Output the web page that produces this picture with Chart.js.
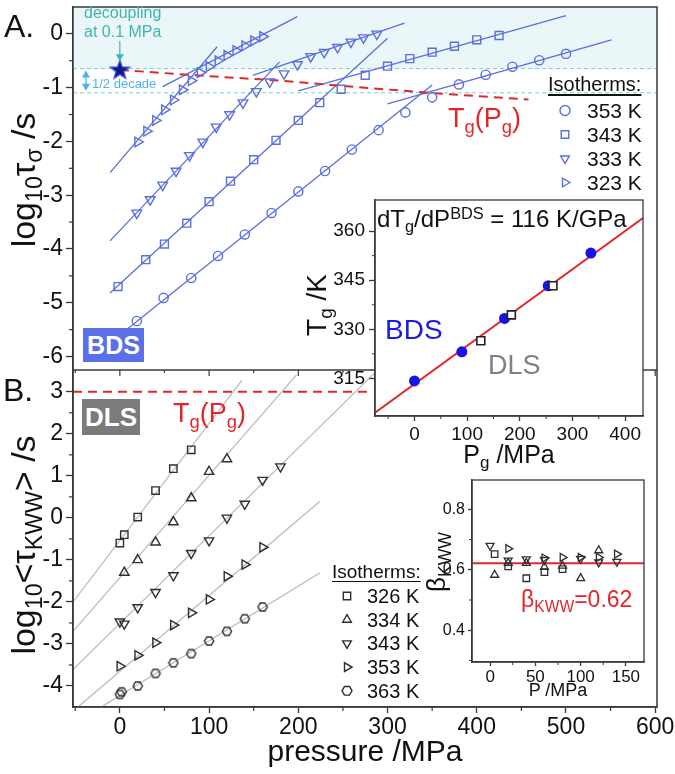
<!DOCTYPE html>
<html lang="en">
<head>
<meta charset="UTF-8">
<title>BDS / DLS relaxation times under pressure</title>
<script src="https://cdn.jsdelivr.net/npm/chart.js@4.4.1/dist/chart.umd.min.js"></script>
<style>
  html, body { margin: 0; padding: 0; background: #fff; }
  body { width: 675px; height: 774px; position: relative; overflow: hidden;
         font-family: Arial, "Liberation Sans", sans-serif; }
  canvas { position: absolute; }
  .t { position: absolute; white-space: nowrap; line-height: 1; color: #111; }
  .t sub { font-size: 68%; vertical-align: baseline; position: relative; top: 0.32em; }
  .t sup { font-size: 68%; vertical-align: baseline; position: relative; top: -0.5em; }
  .c { transform: translateX(-50%); }
  .rot { transform: translate(-50%, -50%) rotate(-90deg); }
  .box { position: absolute; color: #fff; font-weight: bold; display: flex;
         align-items: center; justify-content: center; line-height: 1; }
  .red { color: #e3262b; }
  .u { text-decoration: underline; text-underline-offset: 3px; }
</style>
</head>
<body>
<canvas id="main" width="675" height="774" style="left:0;top:0"></canvas>
<canvas id="tgInset" width="360" height="290" style="left:300px;top:190px"></canvas>
<canvas id="betaInset" width="240" height="240" style="left:420px;top:470px"></canvas>

<!-- panel letters and axis titles -->
<div class="t" style="left:4px;top:10px;font-size:32px">A.</div>
<div class="t" style="left:3px;top:374px;font-size:32px">B.</div>
<div class="t rot" style="left:23px;top:180px;font-size:34px">log<sub>10</sub>τ<sub>σ</sub> /s</div>
<div class="t rot" style="left:23px;top:545px;font-size:34px">log<sub>10</sub>&lt;τ<sub>KWW</sub>&gt; /s</div>
<div class="t c" style="left:365px;top:736px;font-size:30px">pressure /MPa</div>

<!-- panel A notes -->
<div class="t" style="left:84px;top:5px;font-size:16px;color:#3fb7ad">decoupling</div>
<div class="t" style="left:84px;top:24px;font-size:16px;color:#3fb7ad">at 0.1 MPa</div>
<div class="t" style="left:92px;top:77px;font-size:13px;color:#4fb3e8">1/2 decade</div>
<div class="t red" style="left:448px;top:105px;font-size:27px">T<sub>g</sub>(P<sub>g</sub>)</div>
<div class="box" style="left:83px;top:328px;width:61px;height:34px;background:#5b6fe6;font-size:25px">BDS</div>
<div class="t u" style="left:548px;top:74px;font-size:20px">Isotherms:</div>
<div class="t" style="left:587px;top:100px;font-size:21px">353 K</div>
<div class="t" style="left:587px;top:124px;font-size:21px">343 K</div>
<div class="t" style="left:587px;top:148px;font-size:21px">333 K</div>
<div class="t" style="left:587px;top:172px;font-size:21px">323 K</div>

<!-- panel B notes -->
<div class="box" style="left:82px;top:399px;width:58px;height:36px;background:#7b7b7b;font-size:26px">DLS</div>
<div class="t red" style="left:173px;top:400px;font-size:27px">T<sub>g</sub>(P<sub>g</sub>)</div>
<div class="t u" style="left:332px;top:562px;font-size:19px">Isotherms:</div>
<div class="t" style="left:367px;top:586px;font-size:20px">326 K</div>
<div class="t" style="left:367px;top:610px;font-size:20px">334 K</div>
<div class="t" style="left:367px;top:633px;font-size:20px">343 K</div>
<div class="t" style="left:367px;top:657px;font-size:20px">353 K</div>
<div class="t" style="left:367px;top:681px;font-size:20px">363 K</div>

<!-- Tg inset texts -->
<div class="t" style="left:377px;top:207px;font-size:24px">dT<sub>g</sub>/dP<sup>BDS</sup> = 116 K/GPa</div>
<div class="t" style="left:385px;top:316px;font-size:28px;color:#1a1ae0">BDS</div>
<div class="t" style="left:488px;top:352px;font-size:27px;color:#808080">DLS</div>
<div class="t rot" style="left:317px;top:305px;font-size:28px">T<sub>g</sub> /K</div>
<div class="t c" style="left:509px;top:442px;font-size:25px">P<sub>g</sub> /MPa</div>

<!-- beta inset texts -->
<div class="t rot" style="left:436px;top:562px;font-size:26px">β<sub>KWW</sub></div>
<div class="t red" style="left:521px;top:588px;font-size:23px">β<sub>KWW</sub>=0.62</div>
<div class="t c" style="left:558px;top:681px;font-size:18px">P /MPa</div>

<script>
// ---------- panel A: BDS, log10(tau_sigma / s) vs pressure (MPa) ----------
const BDS_P_353 = [19, 49, 80, 110, 140, 170, 200, 230, 260, 290, 320, 350, 380, 410, 440, 470, 500];
const BDS_LOG_353 = [-5.34, -4.91, -4.54, -4.13, -3.73, -3.33, -2.93, -2.55, -2.15, -1.79, -1.46, -1.18, -0.94, -0.76, -0.61, -0.49, -0.37];
const BDS_P_343 = [-2, 29, 50, 75, 100, 124, 150, 175, 200, 224, 248, 275, 300, 325, 350, 375, 400, 425];
const BDS_LOG_343 = [-4.70, -4.20, -3.91, -3.52, -3.12, -2.74, -2.34, -1.98, -1.61, -1.28, -1.03, -0.77, -0.60, -0.46, -0.34, -0.23, -0.11, -0.03];
const BDS_P_333 = [19, 34, 48, 63, 78, 93, 108, 123, 138, 153, 168, 184, 199, 214, 229, 244, 259, 273, 288];
const BDS_LOG_333 = [-3.33, -3.08, -2.81, -2.55, -2.26, -2.01, -1.73, -1.50, -1.28, -1.07, -0.89, -0.74, -0.57, -0.42, -0.34, -0.25, -0.15, -0.07, 0.00];
const BDS_P_323 = [20, 30, 40, 50, 60, 70, 80, 90, 100, 110, 120, 130, 140, 150, 160];
const BDS_LOG_323 = [-2.01, -1.81, -1.61, -1.41, -1.23, -1.04, -0.87, -0.72, -0.61, -0.50, -0.40, -0.31, -0.22, -0.13, -0.05];

// fitted straight lines, two segments per isotherm (steep, then flat)
const FIT_P_353 = [[0, 350], [300, 551]];
const FIT_LOG_353 = [[-5.60, -0.95], [-1.30, -0.11]];
const FIT_P_343 = [[-11, 300], [200, 500]];
const FIT_LOG_343 = [[-4.82, -0.08], [-1.06, 0.34]];
const FIT_P_333 = [[-11, 179], [149, 319]];
const FIT_LOG_333 = [[-3.85, -0.52], [-0.77, 0.20]];
const FIT_P_323 = [[-11, 109], [48, 199]];
const FIT_LOG_323 = [[-2.58, -0.24], [-0.98, 0.32]];

const TG_LINE_P = [0, 84, 180, 348, 458];
const TG_LINE_LOG = [-0.67, -0.77, -0.87, -1.10, -1.22];
const STAR_P = [0];
const STAR_LOG = [-0.66];
const CYAN_LEVELS = [-0.645, -1.095];

// ---------- panel B: DLS, log10(<tau_KWW> / s) ----------
const DLS_P_326 = [0, 5, 20, 40, 60, 80];
const DLS_LOG_326 = [-0.60, -0.40, 0.02, 0.65, 1.17, 1.62];
const DLS_P_334 = [5, 20, 40, 60, 80, 100, 120];
const DLS_LOG_334 = [-1.30, -1.00, -0.58, -0.10, 0.47, 1.10, 1.40];
const DLS_P_343 = [0, 5, 20, 40, 60, 80, 100, 120, 140, 160, 180];
const DLS_LOG_343 = [-2.47, -2.52, -2.13, -1.77, -1.37, -0.84, -0.54, 0.00, 0.33, 0.90, 1.22];
const DLS_P_353 = [0, 20, 40, 60, 80, 100, 120, 140, 160];
const DLS_LOG_353 = [-3.53, -3.27, -2.97, -2.55, -2.26, -1.94, -1.39, -1.11, -0.70];
const DLS_P_363 = [0, 2, 20, 40, 60, 80, 100, 120, 140, 160];
const DLS_LOG_363 = [-4.20, -4.14, -4.00, -3.70, -3.45, -3.23, -2.93, -2.70, -2.40, -2.12];

const DFIT_P_326 = [-52.5, 137];
const DFIT_LOG_326 = [-2.00, 3.28];
const DFIT_P_334 = [-52.5, 198];
const DFIT_LOG_334 = [-2.70, 3.40];
const DFIT_P_343 = [-52.5, 289];
const DFIT_LOG_343 = [-3.61, 3.52];
const DFIT_P_353 = [-47, 224];
const DFIT_LOG_353 = [-4.50, 0.39];
const DFIT_P_363 = [-22.5, 224];
const DFIT_LOG_363 = [-4.52, -1.31];
const TG_DLS_P = [-52.5, 280];
const TG_DLS_LOG = [3, 3];

// ---------- inset: Tg vs Pg ----------
const TG_BDS_P = [0, 90, 171, 254, 335];
const TG_BDS_K = [314.2, 323.1, 333.3, 343.3, 353.3];
const TG_DLS_PG = [126, 184, 263];
const TG_DLS_K = [326.5, 334.4, 343.3];
const TG_FIT_P = [-75, 434];
const TG_FIT_K = [304.5, 364.0];

// ---------- inset: beta_KWW vs P ----------
const BETA_P_326 = [5, 20, 40, 60, 80];
const BETA_326 = [0.652, 0.611, 0.572, 0.592, 0.602];
const BETA_P_334 = [5, 20, 40, 60, 80, 100, 120];
const BETA_334 = [0.583, 0.622, 0.622, 0.609, 0.613, 0.572, 0.664];
const BETA_P_343 = [0, 20, 40, 60, 100, 120, 140];
const BETA_343 = [0.680, 0.631, 0.635, 0.633, 0.637, 0.625, 0.627];
const BETA_P_353 = [20, 60, 80, 100, 120, 140];
const BETA_353 = [0.670, 0.639, 0.641, 0.641, 0.641, 0.652];
const BETA_FIT_P = [-20, 170];
const BETA_FIT = [0.622, 0.622];

// ticks
const X_TICKS = [0, 100, 200, 300, 400, 500, 600];
const X_MINOR = [-50, 50, 150, 250, 350, 450, 550];
const A_Y_TICKS = [-6, -5, -4, -3, -2, -1, 0];
const A_Y_MINOR = [-5.5, -4.5, -3.5, -2.5, -1.5, -0.5];
const B_Y_TICKS = [-4, -3, -2, -1, 0, 1, 2, 3];
const B_Y_MINOR = [-3.5, -2.5, -1.5, -0.5, 0.5, 1.5, 2.5];
const TG_X_TICKS = [0, 100, 200, 300, 400];
const TG_X_MINOR = [-50, 50, 150, 250, 350];
const TG_Y_TICKS = [315, 330, 345, 360];
const TG_Y_MINOR = [322.5, 337.5, 352.5];
const BETA_X_TICKS = [0, 50, 100, 150];
const BETA_X_MINOR = [25, 75, 125];
const BETA_Y_TICKS = [0.4, 0.6, 0.8];
const BETA_Y_MINOR = [0.3, 0.5, 0.7];

const FONT = 'Arial, "Liberation Sans", sans-serif';
const C_BDS = '#5a6fe0';
const C_DLS = '#2e2e2e';
const C_DFIT = '#b8b8b8';
const C_RED = '#e3262b';
const C_AXIS = '#3a3a3a';

function xy(xs, ys) { return xs.map((x, i) => ({x: x, y: ys[i]})); }

function shapePath(ctx, style, r) {
    ctx.beginPath();
    if (style === 'circle') {
        ctx.arc(0, 0, r, 0, 2 * Math.PI);
    } else if (style === 'rect') {
        const h = r * Math.SQRT1_2;
        ctx.rect(-h, -h, 2 * h, 2 * h);
    } else {
        const n = style === 'hex' ? 6 : 3;
        for (let k = 0; k < n; k++) {
            const t = -Math.PI / 2 + k * 2 * Math.PI / n + (n === 6 ? Math.PI / 6 : 0);
            if (k) ctx.lineTo(r * Math.cos(t), r * Math.sin(t)); else ctx.moveTo(r * Math.cos(t), r * Math.sin(t));
        }
        ctx.closePath();
    }
}

function drawMarker(ctx, style, x, y, r, rot, color, lw) {
    ctx.save();
    ctx.translate(x, y);
    ctx.rotate(rot * Math.PI / 180);
    ctx.strokeStyle = color;
    ctx.lineWidth = lw;
    shapePath(ctx, style, r);
    ctx.stroke();
    ctx.restore();
}

// custom marker images: hexagon (363 K) and the star
const hexImg = document.createElement('canvas');
hexImg.width = hexImg.height = 12;
(function () {
    const c = hexImg.getContext('2d');
    c.translate(6, 6);
    c.strokeStyle = C_DLS; c.lineWidth = 1.4;
    shapePath(c, 'hex', 4.6);
    c.stroke();
})();
const starImg = document.createElement('canvas');
starImg.width = starImg.height = 22;
(function () {
    const c = starImg.getContext('2d');
    c.translate(11, 12);
    c.beginPath();
    for (let k = 0; k < 10; k++) {
        const r = k % 2 ? 4 : 10;
        const t = -Math.PI / 2 + k * Math.PI / 5;
        if (k) c.lineTo(r * Math.cos(t), r * Math.sin(t)); else c.moveTo(r * Math.cos(t), r * Math.sin(t));
    }
    c.closePath();
    c.fillStyle = '#0d1a80'; c.fill();
    c.strokeStyle = '#3346d8'; c.lineWidth = 1.2; c.stroke();
})();

function markerSet(xs, ys, axis, style, color, r, rot) {
    return {
        data: xy(xs, ys), yAxisID: axis, showLine: false,
        pointStyle: style, pointRotation: rot || 0, pointRadius: r,
        pointBorderColor: color, pointBackgroundColor: 'rgba(0,0,0,0)',
        pointBorderWidth: 1.4, order: 1
    };
}
function lineSet(xs, ys, axis, color, width, dash) {
    return {
        data: xy(xs, ys), yAxisID: axis, showLine: true, pointRadius: 0,
        borderColor: color, borderWidth: width, borderDash: dash || [], order: 2
    };
}

const datasets = [
    {data: xy(STAR_P, STAR_LOG), yAxisID: 'yA', pointStyle: starImg, order: 0},
    lineSet(TG_LINE_P, TG_LINE_LOG, 'yA', C_RED, 2, [9, 6]),
    markerSet(BDS_P_353, BDS_LOG_353, 'yA', 'circle', C_BDS, 4.6),
    markerSet(BDS_P_343, BDS_LOG_343, 'yA', 'rect', C_BDS, 5.6),
    markerSet(BDS_P_333, BDS_LOG_333, 'yA', 'triangle', C_BDS, 5.6, 180),
    markerSet(BDS_P_323, BDS_LOG_323, 'yA', 'triangle', C_BDS, 5.6, 90),
    markerSet(DLS_P_326, DLS_LOG_326, 'yB', 'rect', C_DLS, 5.2),
    markerSet(DLS_P_334, DLS_LOG_334, 'yB', 'triangle', C_DLS, 5.4),
    markerSet(DLS_P_343, DLS_LOG_343, 'yB', 'triangle', C_DLS, 5.4, 180),
    markerSet(DLS_P_353, DLS_LOG_353, 'yB', 'triangle', C_DLS, 5.4, 90),
    markerSet(DLS_P_363, DLS_LOG_363, 'yB', hexImg, C_DLS, 5),
    lineSet(TG_DLS_P, TG_DLS_LOG, 'yB', C_RED, 2, [9, 6])
];
[[FIT_P_353, FIT_LOG_353], [FIT_P_343, FIT_LOG_343], [FIT_P_333, FIT_LOG_333], [FIT_P_323, FIT_LOG_323]]
    .forEach(([ps, ls]) => ps.forEach((p, i) => datasets.push(lineSet(p, ls[i], 'yA', C_BDS, 1.3))));
[[DFIT_P_326, DFIT_LOG_326], [DFIT_P_334, DFIT_LOG_334], [DFIT_P_343, DFIT_LOG_343],
 [DFIT_P_353, DFIT_LOG_353], [DFIT_P_363, DFIT_LOG_363]]
    .forEach(([p, l]) => datasets.push(lineSet(p, l, 'yB', C_DFIT, 1.2)));

function axis(o) {
    return {
        type: 'linear', min: o.min, max: o.max, position: o.position,
        stack: o.stack, stackWeight: o.weight,
        afterBuildTicks: s => { s.ticks = o.ticks.map(v => ({value: v})); },
        afterFit: s => {
            if (o.width) s.width = o.width;
            if (o.height) s.height = o.height;
            // no extra room for overhanging labels: the frame is placed by layout.padding
            s.paddingTop = s.paddingBottom = s.paddingLeft = s.paddingRight = 0;
        },
        ticks: {
            font: {family: FONT, size: o.font}, color: '#111', padding: o.pad,
            maxRotation: 0, autoSkip: false, callback: o.label || (v => String(v))
        },
        grid: {display: true, drawOnChartArea: false, drawTicks: true, tickLength: o.tick,
               tickColor: C_AXIS, tickWidth: 1.3},
        border: {display: true, color: C_AXIS, width: 1.5}
    };
}

function seg(ctx, x1, y1, x2, y2) {
    ctx.beginPath(); ctx.moveTo(x1, y1); ctx.lineTo(x2, y2); ctx.stroke();
}
function arrowHead(ctx, x, y, dir) {
    ctx.beginPath();
    ctx.moveTo(x, y); ctx.lineTo(x - 4, y - 7 * dir); ctx.lineTo(x + 4, y - 7 * dir);
    ctx.closePath(); ctx.fill();
}

const LEGEND_A = [['circle', 0], ['rect', 0], ['triangle', 180], ['triangle', 90]];
const LEGEND_B = [['rect', 0], ['triangle', 0], ['triangle', 180], ['triangle', 90], ['hex', 0]];

const mainDecor = {
    id: 'mainDecor',
    beforeDatasetsDraw(chart) {
        const {ctx, chartArea: a, scales: {yA}} = chart;
        const yShade = yA.getPixelForValue(CYAN_LEVELS[0]);
        ctx.save();
        ctx.fillStyle = '#eaf6f7';
        ctx.fillRect(a.left, yA.top, a.right - a.left, yShade - yA.top);
        ctx.setLineDash([4, 3]);
        ctx.strokeStyle = '#78cde0';
        ctx.lineWidth = 1;
        CYAN_LEVELS.forEach(v => { const y = yA.getPixelForValue(v); seg(ctx, a.left, y, a.right, y); });
        ctx.restore();
    },
    afterDraw(chart) {
        const {ctx, chartArea: a, scales: {x, yA, yB}} = chart;
        ctx.save();
        ctx.strokeStyle = C_AXIS;
        ctx.lineWidth = 1.5;
        ctx.strokeRect(a.left, a.top, a.right - a.left, a.bottom - a.top);
        seg(ctx, a.left, yA.bottom, a.right, yA.bottom);
        ctx.lineWidth = 1.2;
        A_Y_MINOR.forEach(v => { const y = yA.getPixelForValue(v); seg(ctx, a.left - 4, y, a.left, y); });
        B_Y_MINOR.forEach(v => { const y = yB.getPixelForValue(v); seg(ctx, a.left - 4, y, a.left, y); });
        X_MINOR.forEach(v => {
            const px = x.getPixelForValue(v);
            seg(ctx, px, a.bottom, px, a.bottom + 4);
            seg(ctx, px, yB.top, px, yB.top + 3);
        });
        X_TICKS.forEach(v => { const px = x.getPixelForValue(v); seg(ctx, px, yB.top, px, yB.top + 6); });

        // arrow from "decoupling" note to the star
        const sx = x.getPixelForValue(STAR_P[0]);
        const sy = yA.getPixelForValue(STAR_LOG[0]);
        ctx.strokeStyle = ctx.fillStyle = '#3fb7ad';
        ctx.lineWidth = 1.2;
        seg(ctx, sx, 41, sx, sy - 10);
        arrowHead(ctx, sx, sy - 8, 1);
        // half-decade double arrow
        const dx = x.getPixelForValue(-38);
        const y1 = yA.getPixelForValue(CYAN_LEVELS[0]) + 2;
        const y2 = yA.getPixelForValue(CYAN_LEVELS[1]) - 2;
        ctx.strokeStyle = ctx.fillStyle = '#4fb3e8';
        seg(ctx, dx, y1 + 5, dx, y2 - 5);
        arrowHead(ctx, dx, y1, -1);
        arrowHead(ctx, dx, y2, 1);

        LEGEND_A.forEach(([s, r], i) => drawMarker(ctx, s, 565, 110.5 + 24 * i, s === 'rect' ? 5.4 : 5, r, C_BDS, 1.4));
        LEGEND_B.forEach(([s, r], i) => drawMarker(ctx, s, 347, 596 + 23.7 * i, s === 'rect' ? 5.2 : 5, r, C_DLS, 1.4));
        ctx.restore();
    }
};

new Chart(document.getElementById('main'), {
    type: 'scatter',
    data: {datasets: datasets},
    options: {
        responsive: false, animation: false, devicePixelRatio: 1,
        layout: {padding: {top: 3, right: 18, left: 0, bottom: 0}},
        plugins: {legend: {display: false}, tooltip: {enabled: false}},
        scales: {
            x: axis({min: -52.5, max: 602, position: 'bottom', ticks: X_TICKS, height: 67, font: 23, pad: 1, tick: 6}),
            yB: axis({min: -4.5, max: 3.52, position: 'left', stack: 'main', weight: 339, ticks: B_Y_TICKS, width: 73, font: 23, pad: 3, tick: 7}),
            yA: axis({min: -6.25, max: 0.5, position: 'left', stack: 'main', weight: 365, ticks: A_Y_TICKS, width: 73, font: 23, pad: 3, tick: 7})
        }
    },
    plugins: [mainDecor]
});

function insetFrame(xMinor, yMinor) {
    return {
        id: 'insetFrame',
        beforeDraw(chart) {
            const {ctx, chartArea: a} = chart;
            ctx.save();
            ctx.fillStyle = '#fff';
            ctx.fillRect(a.left, a.top, a.right - a.left, a.bottom - a.top);
            ctx.restore();
        },
        afterDraw(chart) {
            const {ctx, chartArea: a, scales: {x, y}} = chart;
            ctx.save();
            ctx.strokeStyle = C_AXIS;
            ctx.lineWidth = 1.3;
            ctx.strokeRect(a.left, a.top, a.right - a.left, a.bottom - a.top);
            ctx.lineWidth = 1;
            xMinor.forEach(v => { const px = x.getPixelForValue(v); seg(ctx, px, a.bottom, px, a.bottom + 3); });
            yMinor.forEach(v => { const py = y.getPixelForValue(v); seg(ctx, a.left - 3, py, a.left, py); });
            ctx.restore();
        }
    };
}

new Chart(document.getElementById('tgInset'), {
    type: 'scatter',
    data: {datasets: [
        {data: xy(TG_DLS_PG, TG_DLS_K), pointStyle: 'rect', pointRadius: 5.6, pointBorderColor: '#222',
         pointBackgroundColor: '#fff', pointBorderWidth: 1.6, order: 0},
        {data: xy(TG_BDS_P, TG_BDS_K), pointStyle: 'circle', pointRadius: 5.5, pointBorderColor: '#1515e8',
         pointBackgroundColor: '#1515e8', pointBorderWidth: 0, order: 1},
        {data: xy(TG_FIT_P, TG_FIT_K), showLine: true, pointRadius: 0, borderColor: C_RED, borderWidth: 2, order: 2}
    ]},
    options: {
        responsive: false, animation: false, devicePixelRatio: 1,
        layout: {padding: {top: 10, right: 17, left: 0, bottom: 0}},
        plugins: {legend: {display: false}, tooltip: {enabled: false}},
        scales: {
            x: axis({min: -75, max: 434, position: 'bottom', ticks: TG_X_TICKS, height: 64, font: 19, pad: 2, tick: 5}),
            y: axis({min: 303.5, max: 369.5, position: 'left', ticks: TG_Y_TICKS, width: 75, font: 19, pad: 4, tick: 6})
        }
    },
    plugins: [insetFrame(TG_X_MINOR, TG_Y_MINOR)]
});

function betaSet(xs, ys, style, rot) {
    return {data: xy(xs, ys), pointStyle: style, pointRotation: rot || 0, pointRadius: 4.6,
            pointBorderColor: C_DLS, pointBackgroundColor: 'rgba(0,0,0,0)', pointBorderWidth: 1.3, order: 1};
}

new Chart(document.getElementById('betaInset'), {
    type: 'scatter',
    data: {datasets: [
        betaSet(BETA_P_326, BETA_326, 'rect'),
        betaSet(BETA_P_334, BETA_334, 'triangle'),
        betaSet(BETA_P_343, BETA_343, 'triangle', 180),
        betaSet(BETA_P_353, BETA_353, 'triangle', 90),
        {data: xy(BETA_FIT_P, BETA_FIT), showLine: true, pointRadius: 0, borderColor: C_RED, borderWidth: 2, order: 2}
    ]},
    options: {
        responsive: false, animation: false, devicePixelRatio: 1,
        layout: {padding: {top: 10, right: 16, left: 0, bottom: 0}},
        plugins: {legend: {display: false}, tooltip: {enabled: false}},
        scales: {
            x: axis({min: -20, max: 170, position: 'bottom', ticks: BETA_X_TICKS, height: 48, font: 17, pad: 1, tick: 4}),
            y: axis({min: 0.295, max: 0.897, position: 'left', ticks: BETA_Y_TICKS, width: 52, font: 16, pad: 3, tick: 4,
                     label: v => v.toFixed(1)})
        }
    },
    plugins: [insetFrame(BETA_X_MINOR, BETA_Y_MINOR)]
});
</script>
</body>
</html>
